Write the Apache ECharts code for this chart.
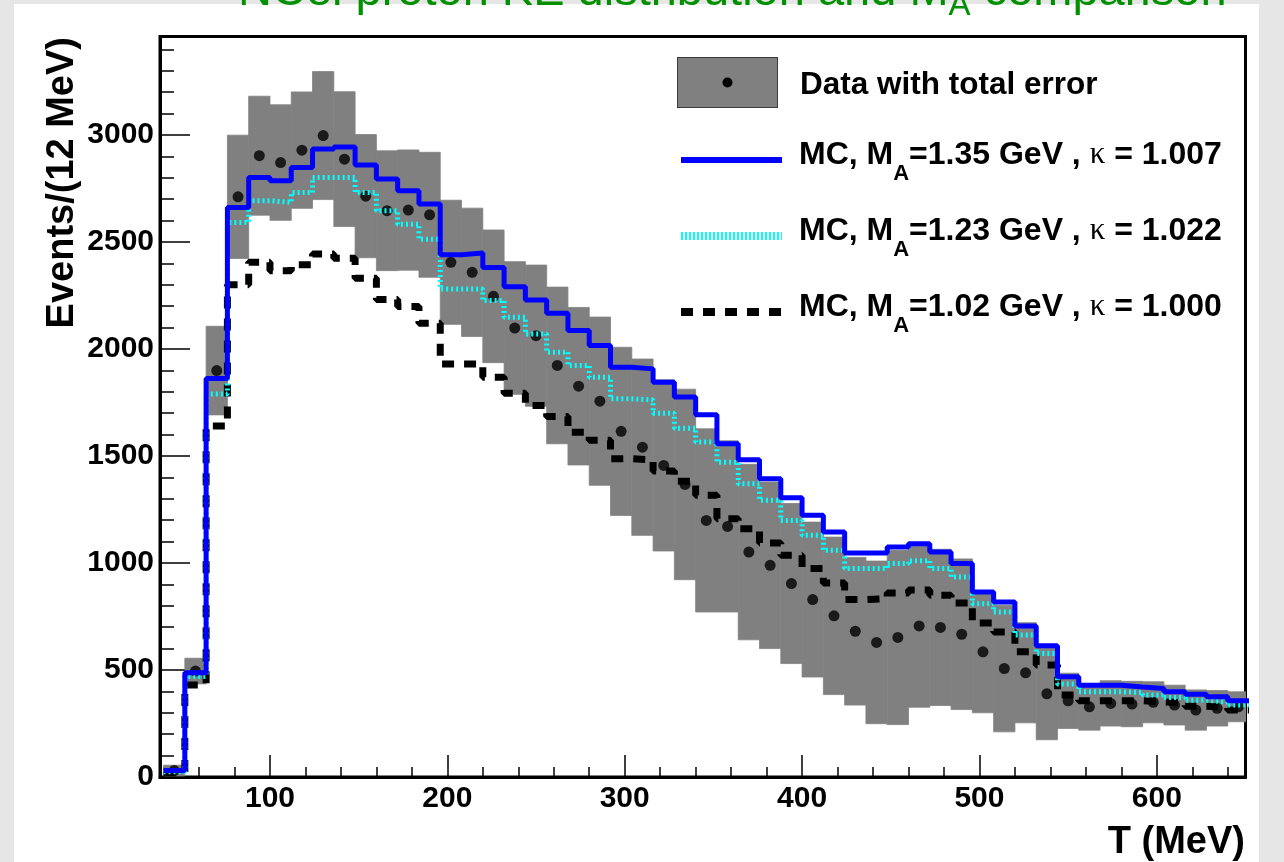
<!DOCTYPE html>
<html>
<head>
<meta charset="utf-8">
<script src="https://cdn.jsdelivr.net/npm/echarts@6/dist/echarts.min.js"></script>
<style>
  html, body { margin: 0; padding: 0; background: #e6e6e6; }
  #chart { width: 1284px; height: 862px; }
</style>
</head>
<body>
<div id="chart"></div>
<script>
// bin low edges (MeV), 12 MeV bins
const binLow = [40, 52, 64, 76, 88, 100, 112, 124, 136, 148, 160, 172, 184, 196, 208, 220, 232, 244, 256, 268,
  280, 292, 304, 316, 328, 340, 352, 364, 376, 388, 400, 412, 424, 436, 448, 460, 472, 484, 496, 508,
  520, 532, 544, 556, 568, 580, 592, 604, 616, 628, 640];
const binWidth = 12;

// data points and total error (half width of grey band)
const dataVal = [30, 495, 1899, 2711, 2903, 2871, 2929, 2997, 2887, 2714, 2646, 2649, 2627, 2405, 2358, 2246, 2098, 2062, 1923, 1826,
  1756, 1615, 1541, 1456, 1367, 1199, 1171, 1051, 989, 904, 829, 753, 681, 629, 652, 706, 699, 667, 585, 507,
  487, 389, 356, 328, 344, 341, 349, 336, 313, 321, 328];
const dataErr = [25, 60, 207, 288, 278, 270, 272, 299, 315, 288, 280, 281, 292, 290, 300, 310, 310, 330, 366, 368,
  393, 393, 412, 400, 445, 428, 400, 410, 389, 374, 362, 368, 345, 380, 407, 380, 365, 352, 285, 296,
  234, 215, 129, 109, 106, 106, 96, 93, 94, 83, 70];

// MC predictions
const mc135 = [30, 487, 1862, 2661, 2801, 2786, 2848, 2934, 2944, 2860, 2794, 2739, 2677, 2440, 2448, 2381, 2291, 2229, 2167, 2086,
  2016, 1915, 1907, 1845, 1775, 1693, 1557, 1482, 1394, 1305, 1223, 1145, 1047, 1047, 1075, 1090, 1051, 997, 865, 818,
  705, 613, 468, 429, 429, 421, 414, 398, 387, 375, 356];
const mc123 = [25, 470, 1790, 2591, 2693, 2685, 2731, 2801, 2801, 2731, 2646, 2583, 2513, 2280, 2280, 2226, 2148, 2070, 1985, 1923,
  1868, 1767, 1762, 1700, 1630, 1565, 1471, 1370, 1293, 1199, 1129, 1059, 974, 974, 997, 1010, 974, 935, 810, 771,
  663, 577, 434, 398, 398, 395, 383, 372, 359, 350, 336];
const mc102 = [20, 430, 1640, 2300, 2405, 2366, 2394, 2444, 2424, 2331, 2231, 2198, 2120, 1930, 1930, 1868, 1793, 1736, 1685, 1611,
  1573, 1487, 1482, 1430, 1382, 1316, 1207, 1160, 1093, 1036, 974, 907, 829, 833, 860, 874, 849, 813, 720, 678,
  585, 523, 383, 356, 356, 356, 351, 347, 331, 325, 313];

const maVals = ['1.35', '1.23', '1.02'];
const kappaVals = ['1.007', '1.022', '1.000'];
const dataName = 'Data with total error';
const mcNames = maVals.map((m, i) => 'MC, MA=' + m + ' GeV , k = ' + kappaVals[i]);

const xMajor = [100, 200, 300, 400, 500, 600];
const xMinor = [40, 60, 80, 120, 140, 160, 180, 220, 240, 260, 280, 320, 340, 360, 380, 420, 440, 460, 480,
  520, 540, 560, 580, 620, 640];
const yMajor = [0, 500, 1000, 1500, 2000, 2500, 3000];
const yMinor = [100, 200, 300, 400, 600, 700, 800, 900, 1100, 1200, 1300, 1400, 1600, 1700, 1800, 1900,
  2100, 2200, 2300, 2400, 2600, 2700, 2800, 2900, 3100, 3200, 3300, 3400];

const font = 'Liberation Sans';
const green = '#009000';

// histogram as step line: each bin low edge, plus closing upper edge
function stepData(vals) {
  const pts = vals.map((v, i) => [binLow[i], v]);
  pts.push([binLow[binLow.length - 1] + binWidth, vals[vals.length - 1]]);
  return pts;
}

// grey box with a dot; transparent strip at the bottom keeps the label a bit lower
const dataIcon = 'image://data:image/svg+xml;utf8,' + encodeURIComponent(
  '<svg xmlns="http://www.w3.org/2000/svg" width="101" height="57">' +
  '<rect x="0.5" y="0.5" width="100" height="50" fill="#808080" stroke="#3a3a3a"/>' +
  '<circle cx="50.5" cy="25.5" r="5" fill="#000"/></svg>');

const chart = echarts.init(document.getElementById('chart'));

const axisBase = {
  axisLine: {show: true, lineStyle: {color: '#000', width: 3}},
  splitLine: {show: false}
};
const noSymbol = {color: 'rgba(0,0,0,0)', borderWidth: 0, opacity: 0};

const option = {
  backgroundColor: '#e6e6e6',
  animation: false,
  grid: [
    {left: 160, top: 36.5, right: 38.5, bottom: 85, show: true, borderColor: '#000', borderWidth: 3, backgroundColor: 'transparent'},
    {left: 160, top: 36.5, right: 38.5, bottom: 85}
  ],
  xAxis: [
    {
      ...axisBase, type: 'value', gridIndex: 0, min: 38, max: 650,
      axisTick: {show: true, inside: true, length: 22, customValues: xMajor, lineStyle: {color: '#000', width: 1.5}},
      axisLabel: {customValues: xMajor, color: '#000', fontFamily: font, fontWeight: 'bold', fontSize: 30, margin: 7}
    },
    {
      type: 'value', gridIndex: 1, min: 38, max: 650,
      axisLine: {show: false}, splitLine: {show: false}, axisLabel: {show: false},
      axisTick: {show: true, inside: true, length: 10, customValues: xMinor, lineStyle: {color: '#000', width: 1.5}}
    }
  ],
  yAxis: [
    {
      ...axisBase, type: 'value', gridIndex: 0, min: 0, max: 3460,
      axisTick: {show: true, inside: true, length: 30, customValues: yMajor, lineStyle: {color: '#000', width: 1.5}},
      axisLabel: {customValues: yMajor, formatter: (v) => String(v), color: '#000', fontFamily: font,
        fontWeight: 'bold', fontSize: 30, margin: 6}
    },
    {
      type: 'value', gridIndex: 1, min: 0, max: 3460,
      axisLine: {show: false}, splitLine: {show: false}, axisLabel: {show: false},
      axisTick: {show: true, inside: true, length: 14, customValues: yMinor, lineStyle: {color: '#000', width: 1.5}}
    }
  ],
  legend: [
    {
      orient: 'vertical', left: 677, top: 57, padding: 0,
      itemWidth: 101, itemHeight: 57,
      data: [{name: dataName, icon: dataIcon}],
      textStyle: {color: '#000', fontFamily: font, fontWeight: 'bold', fontSize: 31.5, padding: [0, 0, 0, 17]}
    },
    {
      orient: 'vertical', left: 677, top: 139, padding: 0, itemGap: 30,
      itemWidth: 101, itemHeight: 14,
      data: [
        {name: mcNames[0], lineStyle: {color: '#0000ff', width: 6, type: 'solid'}, itemStyle: noSymbol},
        {name: mcNames[1], lineStyle: {color: '#00ffff', width: 8, type: [2, 2]}, itemStyle: noSymbol},
        {name: mcNames[2], lineStyle: {color: '#000', width: 8, type: [12, 10]}, itemStyle: noSymbol}
      ],
      formatter: (name) => {
        const i = mcNames.indexOf(name);
        return '{t|MC, M}{s|A}{t|=' + maVals[i] + ' GeV , }{k|\u03ba}{t| = ' + kappaVals[i] + '}';
      },
      textStyle: {
        color: '#000', padding: [0, 0, 10, 12],
        rich: {
          t: {fontFamily: font, fontWeight: 'bold', fontSize: 32, lineHeight: 60, verticalAlign: 'middle'},
          s: {fontFamily: font, fontWeight: 'bold', fontSize: 22, lineHeight: 22, verticalAlign: 'bottom'},
          k: {fontFamily: 'Liberation Serif', fontSize: 31, lineHeight: 60, verticalAlign: 'middle'}
        }
      }
    }
  ],
  graphic: [
    {type: 'rect', z: -100, shape: {x: 14, y: 4, width: 1245, height: 858}, style: {fill: '#fff'}, silent: true},
    {
      type: 'text', x: 238, y: -8,
      style: {
        text: '{g|NCel proton KE distribution and M}{a|A}{g| comparison}',
        align: 'left', verticalAlign: 'middle',
        rich: {
          g: {fontFamily: font, fontSize: 47, fill: green, lineHeight: 60, verticalAlign: 'middle'},
          a: {fontFamily: font, fontSize: 33, fill: green, lineHeight: 24, verticalAlign: 'bottom'}
        }
      }
    },
    {
      type: 'text', x: 63, y: 37, rotation: Math.PI / 2,
      style: {text: 'Events/(12 MeV)', align: 'right', verticalAlign: 'middle', fill: '#000',
        font: 'bold 38px "Liberation Sans"'}
    },
    {
      type: 'text', x: 1245, y: 843,
      style: {text: 'T (MeV)', align: 'right', verticalAlign: 'middle', fill: '#000',
        font: 'bold 38px "Liberation Sans"'}
    }
  ],
  series: [
    {
      name: dataName, type: 'custom', xAxisIndex: 0, yAxisIndex: 0, clip: true,
      data: binLow.map((x, i) => [x, dataVal[i], dataErr[i]]),
      renderItem: (params, api) => {
        const x0 = api.value(0), v = api.value(1), e = api.value(2);
        const p0 = api.coord([x0, v + e]);
        const p1 = api.coord([x0 + binWidth, v - e]);
        return {
          type: 'rect',
          shape: {x: p0[0], y: p0[1], width: p1[0] - p0[0], height: p1[1] - p0[1]},
          style: {fill: '#808080', stroke: '#808080', lineWidth: 0.8}
        };
      }
    },
    {
      name: dataName, type: 'scatter', symbol: 'circle', symbolSize: 11,
      itemStyle: {color: '#000'},
      data: binLow.map((x, i) => [x + binWidth / 2, dataVal[i]])
    },
    {
      name: mcNames[2], type: 'line', step: 'end', symbol: 'none', clip: true,
      itemStyle: {color: '#000'},
      lineStyle: {color: '#000', width: 7, type: [12, 10], cap: 'butt'},
      data: stepData(mc102)
    },
    {
      name: mcNames[1], type: 'line', step: 'end', symbol: 'none', clip: true,
      itemStyle: {color: '#00ffff'},
      lineStyle: {color: '#00ffff', width: 5, type: [2, 3], cap: 'butt'},
      data: stepData(mc123)
    },
    {
      name: mcNames[0], type: 'line', step: 'end', symbol: 'none', clip: true,
      itemStyle: {color: '#0000ff'},
      lineStyle: {color: '#0000ff', width: 5},
      data: stepData(mc135)
    }
  ]
};

chart.setOption(option);
</script>
</body>
</html>
